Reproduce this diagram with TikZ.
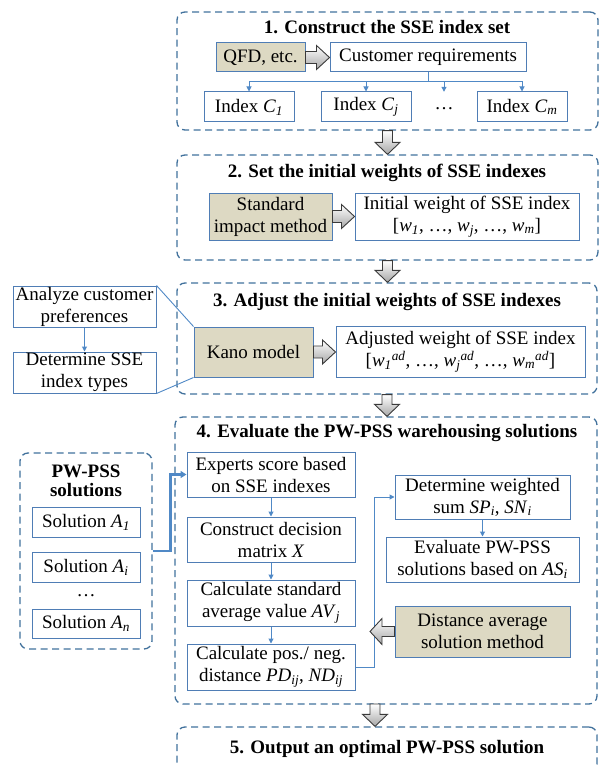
\documentclass[tikz,border=0pt]{standalone}
\usepackage{fontspec}
\setmainfont{Liberation Serif}
\usetikzlibrary{arrows.meta,calc}
\definecolor{framecol}{HTML}{41719C}
\definecolor{boxcol}{HTML}{4F7DB5}
\definecolor{tanfill}{HTML}{DDD9C3}
\definecolor{conncol}{HTML}{5089C6}
\definecolor{blkedge}{HTML}{3A3A3A}
\definecolor{blkfill}{HTML}{A6A6A6}
\newcommand\myit[1]{\textit{#1}}
\newcommand\mysub[1]{\textsubscript{\textit{#1}}}
\newcommand\mysup[1]{\textsuperscript{\textit{#1}}}
\newcommand\blkright[2]{\draw[blk] let \p1=(#1), \p2=(#2) in (\x1,\y1+6pt) -- (\x2-13pt,\y1+6pt) -- (\x2-13pt,\y1+12pt) -- (\x2,\y1) -- (\x2-13pt,\y1-12pt) -- (\x2-13pt,\y1-6pt) -- (\x1,\y1-6pt) -- cycle;}
\newcommand\blkleft[2]{\draw[blk] let \p1=(#1), \p2=(#2) in (\x1,\y1+5pt) -- (\x2+12pt,\y1+5pt) -- (\x2+12pt,\y1+13pt) -- (\x2,\y1) -- (\x2+12pt,\y1-13pt) -- (\x2+12pt,\y1-5pt) -- (\x1,\y1-5pt) -- cycle;}
\newcommand\blkdown[2]{\draw[blk] let \p1=(#1), \p2=(#2) in (\x1-5pt,\y1) -- (\x1+5pt,\y1) -- (\x1+5pt,\y2+12pt) -- (\x1+12.5pt,\y2+12pt) -- (\x1,\y2) -- (\x1-12.5pt,\y2+12pt) -- (\x1-5pt,\y2+12pt) -- cycle;}
\tikzset{
  frame/.style={draw=framecol, line width=1.3pt, dash pattern=on 7pt off 4.5pt, rounded corners=8pt},
  box/.style={draw=boxcol, line width=1pt, fill=white, align=center},
  tanbox/.style={box, fill=tanfill},
  title/.style={font=\fontsize{19}{22}\selectfont\bfseries, align=center},
  conn/.style={draw=conncol, line width=1pt, -{Triangle[length=5pt,width=5pt]}},
  link/.style={draw=conncol, line width=0.9pt},
  thickconn/.style={draw=conncol, line width=2.6pt, -{Triangle[length=6pt,width=7pt]}},
  blk/.style={draw=blkedge, line width=0.9pt, top color=white, bottom color=blkfill, line join=miter}
}
\begin{document}
\begin{tikzpicture}[x=1pt,y=-1pt,
  every node/.style={font=\fontsize{19}{22}\selectfont, inner sep=0pt, text=black}]
\useasboundingbox (0,0) rectangle (602,765);

% frames
\node[frame, minimum width=421pt, minimum height=118pt] (f1) at (387.5,71) {};
\node[frame, minimum width=421pt, minimum height=105pt] (f2) at (387.5,207.5) {};
\node[frame, minimum width=420pt, minimum height=111pt] (f3) at (387,338.5) {};
\node[frame, minimum width=422pt, minimum height=287pt] (f4) at (386,560.5) {};
\node[frame, minimum width=420pt, minimum height=45pt] (f5) at (387,749.5) {};
\node[frame, minimum width=132pt, minimum height=196pt] (pw) at (86,551) {};

% titles
\node[title] (t1) at (387,27) {1. Construct the SSE index set};
\node[title] (t2) at (387,173) {2. Set the initial weights of SSE indexes};
\node[title] (t3) at (387,302) {3. Adjust the initial weights of SSE indexes};
\node[title] (t4) at (387,433) {4. Evaluate the PW-PSS warehousing solutions};
\node[title] (t5) at (387,749) {5. Output an optimal PW-PSS solution};
\node[title, font=\fontsize{19}{19}\selectfont\bfseries] (pwt) at (86,481) {PW-PSS\\solutions};

% stage 1
\node[tanbox, minimum width=89pt, minimum height=29pt] (qfd) at (260.5,57.5) {QFD, etc.};
\node[box, minimum width=196pt, minimum height=29pt] (cust) at (428,57.5) {Customer requirements};
\node[box, minimum width=90pt, minimum height=30pt] (c1) at (249,107) {Index \myit{C}\mysub{1}};
\node[box, minimum width=90pt, minimum height=30pt] (cj) at (366,107) {Index \myit{C}\mysub{j}};
\node[minimum height=30pt, text height=1.5ex, text depth=.25ex] (cdots) at (444,107) {…};
\node[box, minimum width=90pt, minimum height=30pt] (cm) at (522,107) {Index \myit{C}\mysub{m}};
\coordinate (br) at ($(cust.south)+(0,9)$);
\draw[link] (cust.south) -- (br);
\draw[conn] (br) -| (c1.north);
\draw[conn] (br) -| (cj.north);
\draw[conn] (br) -| (cdots.north);
\draw[conn] (br) -| (cm.north);
\blkright{qfd.east}{cust.west}

% stage 2
\node[tanbox, minimum width=123pt, minimum height=47pt] (std) at (270.5,216.5) {Standard\\impact method};
\node[box, minimum width=224pt, minimum height=47pt] (init) at (467,216.5) {Initial weight of SSE index\\{}[\myit{w}\mysub{1}, …, \myit{w}\mysub{j}, …, \myit{w}\mysub{m}]};
\blkright{std.east}{init.west}

% stage 3
\node[tanbox, minimum width=119pt, minimum height=50pt] (kano) at (253.5,352) {Kano model};
\node[box, minimum width=249pt, minimum height=51pt] (adj) at (460.5,351.5) {Adjusted weight of SSE index\\{}[\myit{w}\mysub{1}\mysup{ad}, …, \myit{w}\mysub{j}\mysup{ad}, …, \myit{w}\mysub{m}\mysup{ad}]};
\blkright{kano.east}{adj.west}
\node[box, minimum width=143pt, minimum height=41pt] (ana) at (84.5,306.5) {Analyze customer\\preferences};
\node[box, minimum width=143pt, minimum height=41pt] (dsse) at (84.5,372.5) {Determine SSE\\index types};
\draw[conn] (ana) -- (dsse);
\draw[link] (ana.north east) -- (kano.north west);
\draw[link] (dsse.south east) -- (kano.south west);

% stage 4
\node[box, minimum width=108pt, minimum height=30pt] (sa1) at (86,522) {Solution \myit{A}\mysub{1}};
\node[box, minimum width=108pt, minimum height=30pt] (sai) at (86,567) {Solution \myit{A}\mysub{i}};
\node (sdots) at (86,596) {…};
\node[box, minimum width=108pt, minimum height=29pt] (san) at (86,623.5) {Solution \myit{A}\mysub{n}};

\node[box, minimum width=168pt, minimum height=45pt] (exp) at (271,474.5) {Experts score based\\on SSE indexes};
\node[box, minimum width=168pt, minimum height=45pt] (con) at (271,539.5) {Construct decision\\matrix \myit{X}};
\node[box, minimum width=168pt, minimum height=46pt] (cstd) at (271,603) {Calculate standard\\average value \myit{AV}\mysub{j}};
\node[box, minimum width=168pt, minimum height=46pt] (cpos) at (271,667) {Calculate pos./ neg.\\distance \myit{PD}\mysub{ij}, \myit{ND}\mysub{ij}};
\node[box, minimum width=175pt, minimum height=44pt] (dw) at (482.5,497) {Determine weighted\\sum \myit{SP}\mysub{i}, \myit{SN}\mysub{i}};
\node[box, minimum width=193pt, minimum height=45pt] (ev) at (482.5,559.5) {Evaluate PW-PSS\\solutions based on \myit{AS}\mysub{i}};
\node[tanbox, minimum width=175pt, minimum height=51pt] (dist) at (482.5,631.5) {Distance average\\solution method};

\draw[conn] (exp) -- (con);
\draw[conn] (con) -- (cstd);
\draw[conn] (cstd) -- (cpos);
\draw[conn] (dw) -- (ev);
\draw[conn] (cpos.east) -- ++(19,0) |- (dw.west);
\draw[thickconn] (pw.east) -- ++(18,0) |- (exp.west);
\coordinate (dtip) at (370,631.5);
\blkleft{dist.west}{dtip}

% stage arrows
\blkdown{f1.south}{f2.north}
\blkdown{f2.south}{f3.north}
\blkdown{f3.south}{f4.north}
\coordinate (a45) at (375,704);
\blkdown{a45}{f5.north}
\end{tikzpicture}
\end{document}
